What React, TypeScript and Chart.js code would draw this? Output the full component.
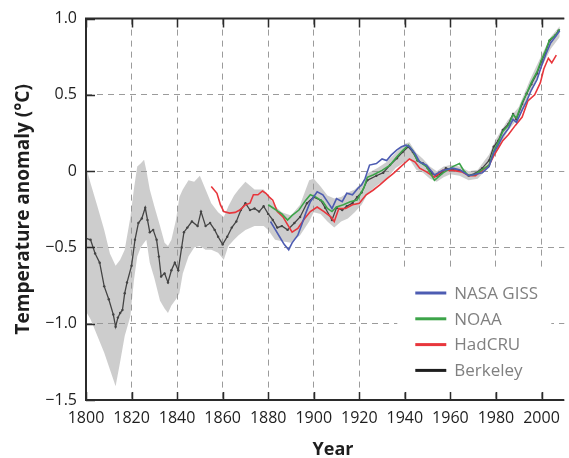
import React, { useEffect, useRef } from "react";
import { Chart, registerables } from "chart.js";

Chart.register(...registerables);

// ---------- tick labels ----------
const xTicks = [1800, 1820, 1840, 1860, 1880, 1900, 1920, 1940, 1960, 1980, 2000];
const yTicks = [-1.5, -1.0, -0.5, 0, 0.5, 1.0];

// ---------- series ----------
const seriesNames = ["NASA GISS", "NOAA", "HadCRU", "Berkeley"];
const seriesColors = ["#4d5cb2", "#3ca449", "#e8363c", "#1e1e1e"];

const berkeleyYears = [
  1800, 1802, 1804, 1806, 1808, 1810, 1812, 1813, 1814, 1815, 1816, 1817, 1818, 1820, 1821.5, 1823, 1824.5,
  1826, 1827, 1828, 1829.5, 1831, 1832, 1833, 1834.5, 1836, 1837.5, 1839, 1840.5, 1842, 1843, 1844.5, 1846.5,
  1849, 1850.5, 1852.5, 1854.5, 1856.5, 1858, 1860, 1862, 1864, 1866, 1868, 1870, 1872, 1874, 1876, 1878,
  1880, 1882, 1884, 1886, 1888.5, 1891.5, 1894, 1897, 1900, 1903, 1905, 1908, 1910, 1912.5, 1914.5, 1917,
  1919, 1921, 1923.5, 1927.5, 1930.5, 1933.5, 1936.5, 1939, 1941.5, 1943.5, 1945.5, 1948, 1950, 1952, 1954,
  1956, 1958, 1961, 1964, 1966, 1968, 1971, 1974, 1977, 1979, 1981, 1983, 1985.5, 1987.5, 1989, 1991.5,
  1993.5, 1995.5, 1998, 2000, 2001.5, 2003.5, 2006, 2007.5,
];
const berkeleyValues = [
  -0.44, -0.45, -0.54, -0.6, -0.755, -0.84, -0.94, -1.02, -0.96, -0.93, -0.91, -0.8, -0.73, -0.62, -0.45, -0.34,
  -0.31, -0.24, -0.32, -0.4, -0.385, -0.45, -0.56, -0.69, -0.67, -0.73, -0.65, -0.6, -0.65, -0.5, -0.4, -0.37,
  -0.33, -0.36, -0.265, -0.36, -0.34, -0.385, -0.43, -0.48, -0.43, -0.37, -0.33, -0.255, -0.21, -0.255,
  -0.245, -0.265, -0.23, -0.28, -0.32, -0.37, -0.36, -0.385, -0.34, -0.3, -0.21, -0.17, -0.19, -0.24, -0.32,
  -0.24, -0.255, -0.23, -0.21, -0.17, -0.14, -0.06, -0.03, -0.01, 0.04, 0.085, 0.125, 0.16, 0.125, 0.07, 0.05,
  0.02, -0.015, -0.03, -0.015, 0.02, 0.01, 0.005, -0.005, -0.03, -0.015, 0.02, 0.07, 0.16, 0.2, 0.27, 0.31,
  0.375, 0.34, 0.44, 0.51, 0.57, 0.64, 0.72, 0.77, 0.855, 0.89, 0.92,
];

const bandYears = [
  1800, 1802, 1805, 1808, 1810.5, 1813, 1815, 1817, 1819.5, 1821, 1822.5, 1824, 1825.5, 1826.5, 1828, 1830,
  1832.5, 1834.5, 1836, 1837.5, 1839.5, 1841, 1842.5, 1845, 1847.5, 1850, 1852.5, 1855, 1858, 1860.5, 1862.5,
  1865, 1867, 1870, 1874, 1878, 1880, 1883, 1886, 1890, 1894, 1898, 1900, 1903, 1906, 1909, 1912, 1915, 1918,
  1921, 1924, 1928, 1932, 1936, 1940, 1942, 1945, 1948, 1951, 1954, 1957, 1960, 1964, 1968, 1972, 1975, 1977,
  1980, 1985, 1990, 1995, 2000, 2004, 2008,
];
const bandUpper = [
  0.03, -0.08, -0.23, -0.385, -0.54, -0.62, -0.58, -0.515, -0.3, -0.12, 0.03, 0.05, 0.075, 0.005, -0.12, -0.23,
  -0.36, -0.47, -0.49, -0.45, -0.32, -0.17, -0.12, -0.06, -0.07, -0.03, -0.12, -0.21, -0.27, -0.3, -0.23,
  -0.16, -0.12, -0.07, -0.12, -0.12, -0.16, -0.23, -0.27, -0.29, -0.22, -0.06, -0.05, -0.1, -0.16, -0.18,
  -0.17, -0.14, -0.12, -0.08, -0.01, 0.02, 0.06, 0.12, 0.18, 0.19, 0.12, 0.08, 0.03, 0.0, 0.03, 0.04, 0.03,
  0.0, 0.01, 0.07, 0.11, 0.21, 0.33, 0.42, 0.6, 0.76, 0.88, 0.95,
];
const bandLower = [
  -0.92, -0.97, -1.08, -1.19, -1.3, -1.41, -1.25, -1.08, -0.95, -0.72, -0.56, -0.5, -0.47, -0.45, -0.6, -0.7,
  -0.85, -0.9, -0.93, -0.88, -0.84, -0.8, -0.67, -0.56, -0.5, -0.49, -0.515, -0.515, -0.535, -0.58, -0.49,
  -0.45, -0.42, -0.385, -0.36, -0.36, -0.385, -0.45, -0.46, -0.47, -0.42, -0.33, -0.27, -0.28, -0.33, -0.37,
  -0.33, -0.31, -0.27, -0.22, -0.14, -0.09, -0.05, 0.02, 0.06, 0.08, 0.01, -0.01, -0.05, -0.07, -0.04, -0.02,
  -0.03, -0.06, -0.05, 0.0, 0.03, 0.12, 0.26, 0.35, 0.52, 0.68, 0.8, 0.88,
];

const nasaYears = [
  1881, 1883, 1885, 1887, 1889, 1890.5, 1893, 1894.5, 1896.5, 1898.5, 1901.5, 1904, 1906, 1908, 1910, 1912.5,
  1914.5, 1917, 1919.5, 1921, 1922.5, 1924.5, 1927.5, 1930, 1932, 1934, 1936.5, 1938.5, 1940.5, 1942, 1944.5,
  1946.5, 1949.5, 1953, 1956.5, 1961, 1964, 1966, 1968, 1971, 1974, 1977, 1979, 1981, 1983, 1985.5, 1987.5,
  1989, 1991.5, 1993.5, 1995.5, 1998, 2000, 2002, 2004, 2006, 2008,
];
const nasaValues = [
  -0.33, -0.38, -0.43, -0.48, -0.515, -0.47, -0.42, -0.36, -0.275, -0.2, -0.135, -0.155, -0.2, -0.245, -0.18,
  -0.2, -0.145, -0.155, -0.11, -0.09, -0.05, 0.04, 0.05, 0.08, 0.07, 0.105, 0.14, 0.16, 0.17, 0.16, 0.115,
  0.06, 0.04, -0.025, 0.005, 0.02, 0.01, -0.01, -0.03, -0.02, -0.01, 0.03, 0.12, 0.17, 0.23, 0.28, 0.34, 0.32,
  0.4, 0.46, 0.53, 0.6, 0.69, 0.77, 0.84, 0.88, 0.92,
];

const noaaYears = [
  1880, 1882, 1884, 1886, 1888.5, 1890.5, 1893.5, 1896.5, 1898.5, 1901, 1904, 1906, 1908, 1910, 1913, 1916,
  1919, 1922, 1923.5, 1926, 1930, 1933.5, 1936.5, 1939, 1941.5, 1943.5, 1945.5, 1949.5, 1953, 1956.5, 1961,
  1964, 1966, 1968, 1971, 1974, 1977, 1979, 1981, 1983, 1985.5, 1987.5, 1989, 1991.5, 1993.5, 1995.5, 1998,
  2000, 2001.5, 2003.5, 2006, 2008,
];
const noaaValues = [
  -0.22, -0.24, -0.26, -0.28, -0.32, -0.29, -0.255, -0.19, -0.155, -0.17, -0.2, -0.245, -0.265, -0.235, -0.22,
  -0.2, -0.19, -0.11, -0.04, -0.025, 0.005, 0.04, 0.095, 0.135, 0.17, 0.135, 0.07, 0.03, -0.06, -0.015, 0.03,
  0.05, 0.0, -0.03, -0.02, 0.01, 0.04, 0.13, 0.19, 0.26, 0.3, 0.37, 0.35, 0.45, 0.51, 0.58, 0.65, 0.73, 0.78,
  0.86, 0.89, 0.93,
];

const hadcruYears = [
  1855, 1857.5, 1859, 1860.5, 1863, 1865.5, 1867.5, 1870, 1872, 1873.5, 1875.5, 1877.5, 1879, 1880.5, 1882,
  1884, 1886.5, 1888.5, 1890.5, 1893, 1896, 1898.5, 1901.5, 1904.5, 1907.5, 1909, 1911, 1914, 1917, 1920, 1923,
  1926, 1929, 1932, 1935, 1937.5, 1940.5, 1942, 1944.5, 1946.5, 1949.5, 1953, 1956.5, 1961, 1965, 1968, 1971,
  1974, 1977, 1979, 1981, 1983, 1985.5, 1988.5, 1991.5, 1994, 1997, 1999.5, 2001, 2003, 2004.5, 2006.5,
];
const hadcruValues = [
  -0.1, -0.145, -0.22, -0.265, -0.275, -0.27, -0.255, -0.22, -0.21, -0.155, -0.155, -0.13, -0.145, -0.17, -0.19,
  -0.265, -0.3, -0.35, -0.4, -0.375, -0.31, -0.265, -0.235, -0.265, -0.3, -0.33, -0.245, -0.245, -0.22, -0.21,
  -0.155, -0.125, -0.09, -0.05, -0.015, 0.02, 0.06, 0.08, 0.06, 0.02, -0.005, -0.04, 0.005, 0.005, -0.005,
  -0.03, -0.03, 0.005, 0.04, 0.1, 0.15, 0.2, 0.24, 0.3, 0.355, 0.46, 0.5, 0.58, 0.67, 0.74, 0.71, 0.76,
];

const xTitle = "Year";
const yTitle = "Temperature anomaly (°C)";

const pts = (xs: number[], ys: number[]) => xs.map((x, i) => ({ x, y: ys[i] }));
const fmtY = (v: number) => (v === 0 ? "0" : (v < 0 ? "\u2212" : "") + Math.abs(v).toFixed(1));

const FONT = "'Open Sans', 'Noto Sans', sans-serif";

const decorPlugin = {
  id: "decor",
  beforeDatasetsDraw(chart: any) {
    const { ctx, chartArea } = chart;
    // white legend panel hides the grid behind the legend
    ctx.save();
    ctx.fillStyle = "#ffffff";
    ctx.fillRect(chartArea.right - 167, chartArea.bottom - 133, 154, 125);
    ctx.restore();
  },
  afterDraw(chart: any) {
    const { ctx, chartArea, scales } = chart;
    const { left, right, top, bottom } = chartArea;
    const xs = scales.x;
    const ys = scales.y;
    ctx.save();
    // frame (top, left, bottom)
    ctx.strokeStyle = "#2b2b2b";
    ctx.lineWidth = 2;
    ctx.beginPath();
    ctx.moveTo(left - 1, top);
    ctx.lineTo(right, top);
    ctx.moveTo(left, top);
    ctx.lineTo(left, bottom);
    ctx.moveTo(left - 1, bottom);
    ctx.lineTo(right, bottom);
    ctx.stroke();
    // inward tick marks
    ctx.lineWidth = 1.5;
    ctx.beginPath();
    xTicks.forEach((v) => {
      const px = Math.round(xs.getPixelForValue(v)) + 0.5;
      ctx.moveTo(px, top);
      ctx.lineTo(px, top + 9);
      ctx.moveTo(px, bottom);
      ctx.lineTo(px, bottom - 8);
    });
    yTicks.forEach((v) => {
      const py = Math.round(ys.getPixelForValue(v)) + 0.5;
      ctx.moveTo(left, py);
      ctx.lineTo(left + 9, py);
    });
    ctx.stroke();

    // legend
    const lx = right - 149;
    const ly0 = bottom - 107;
    const step = 25.8;
    ctx.font = `17px ${FONT}`;
    ctx.textBaseline = "middle";
    ctx.textAlign = "left";
    seriesNames.forEach((name, i) => {
      const yy = ly0 + i * step;
      ctx.strokeStyle = seriesColors[i];
      ctx.lineWidth = 3;
      ctx.beginPath();
      ctx.moveTo(lx, yy);
      ctx.lineTo(lx + 31, yy);
      ctx.stroke();
      ctx.fillStyle = "#808080";
      ctx.fillText(name, lx + 39, yy + 1);
    });

    // axis titles
    ctx.fillStyle = "#1e1e1e";
    ctx.textAlign = "center";
    ctx.textBaseline = "alphabetic";
    ctx.font = `bold 18px ${FONT}`;
    ctx.fillText(xTitle, 333, 455);
    ctx.save();
    ctx.translate(28.5, (top + bottom) / 2);
    ctx.rotate(-Math.PI / 2);
    ctx.font = `bold 19px ${FONT}`;
    ctx.fillText(yTitle, 0, 0);
    ctx.restore();
    ctx.restore();
  },
};

export default function App() {
  const ref = useRef<HTMLCanvasElement | null>(null);

  useEffect(() => {
    if (!ref.current) return;
    const lineDs = (label: string, data: any[], color: string, order: number, width = 1.6) => ({
      label,
      data,
      borderColor: color,
      backgroundColor: color,
      borderWidth: width,
      pointRadius: 0,
      tension: 0,
      fill: false,
      order,
    });
    const berk = lineDs("Berkeley", pts(berkeleyYears, berkeleyValues), "#444444", 4, 1.3);
    (berk as any).pointRadius = 1.2;
    (berk as any).pointBackgroundColor = "#444444";
    (berk as any).pointBorderWidth = 0;

    const chart = new Chart(ref.current, {
      type: "line",
      data: {
        datasets: [
          {
            label: "band upper",
            data: pts(bandYears, bandUpper),
            borderWidth: 0,
            borderColor: "rgba(0,0,0,0)",
            pointRadius: 0,
            fill: "+1",
            backgroundColor: "rgba(150,150,150,0.48)",
            order: 10,
          } as any,
          {
            label: "band lower",
            data: pts(bandYears, bandLower),
            borderWidth: 0,
            borderColor: "rgba(0,0,0,0)",
            pointRadius: 0,
            fill: false,
            order: 9,
          } as any,
          berk,
          lineDs(seriesNames[2], pts(hadcruYears, hadcruValues), seriesColors[2], 3),
          lineDs(seriesNames[1], pts(noaaYears, noaaValues), seriesColors[1], 2),
          lineDs(seriesNames[0], pts(nasaYears, nasaValues), seriesColors[0], 1),
        ],
      },
      options: {
        animation: false,
        responsive: false,
        devicePixelRatio: 1,
        layout: { padding: { top: 17, right: 0, bottom: 0, left: 0 } },
        plugins: {
          legend: { display: false },
          tooltip: { enabled: false },
          filler: { drawTime: "beforeDatasetsDraw" } as any,
        },
        scales: {
          x: {
            type: "linear",
            min: 1800,
            max: 2010,
            afterBuildTicks: (s: any) => {
              s.ticks = xTicks.map((v) => ({ value: v }));
            },
            afterFit: (s: any) => {
              s.height = 58;
            },
            grid: { color: "#9b9b9b", lineWidth: 1, drawTicks: false },
            border: { display: false, dash: [6, 5] },
            ticks: {
              autoSkip: false,
              maxRotation: 0,
              padding: 9,
              color: "#1e1e1e",
              font: { family: FONT, size: 16 },
              callback: (v: any) => String(v),
            },
          },
          y: {
            type: "linear",
            min: -1.5,
            max: 1.0,
            afterBuildTicks: (s: any) => {
              s.ticks = yTicks.map((v) => ({ value: v }));
            },
            afterFit: (s: any) => {
              s.width = 86;
            },
            grid: { color: "#9b9b9b", lineWidth: 1, drawTicks: false },
            border: { display: false, dash: [6, 5] },
            ticks: {
              padding: 9,
              color: "#1e1e1e",
              font: { family: FONT, size: 16 },
              callback: (v: any) => fmtY(Number(v)),
            },
          },
        },
      },
      plugins: [decorPlugin],
    });
    return () => chart.destroy();
  }, []);

  return (
    <div style={{ position: "absolute", left: 0, top: 0, width: 569, height: 458, background: "#fff" }}>
      <canvas ref={ref} width={569} height={458} style={{ display: "block" }} />
    </div>
  );
}
